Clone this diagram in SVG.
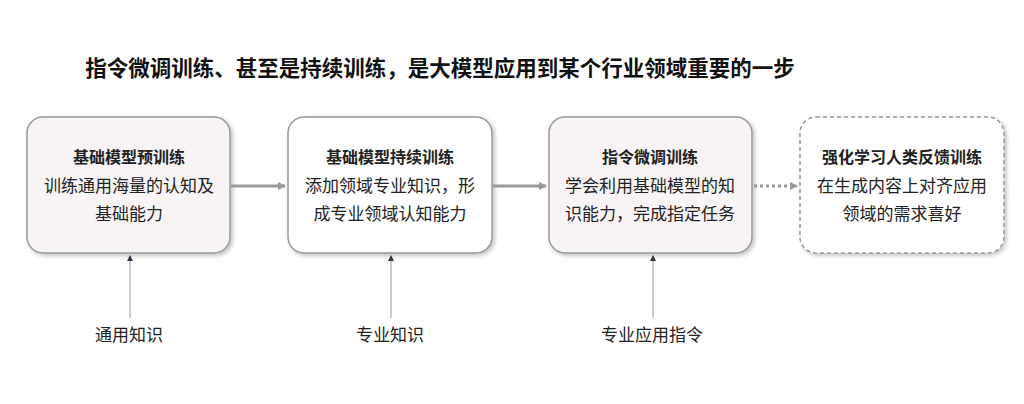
<svg xmlns="http://www.w3.org/2000/svg" width="1024" height="404" viewBox="0 0 1024 404">
<style>
text{font-family:"Noto Sans CJK SC","Noto Sans",sans-serif;fill:#222;text-anchor:middle}
.t{font-size:16px;font-weight:bold}
.b{font-size:17px}
.box{stroke:#999;stroke-width:1.5}
.flow{stroke:#999;stroke-width:3;fill:none}
.up{stroke:#999;stroke-width:1;fill:none}
</style>
<defs>
<filter id="sh" x="-10%" y="-10%" width="130%" height="130%"><feDropShadow dx="2" dy="2" stdDeviation="2" flood-color="#000" flood-opacity="0.25"/></filter>
<marker id="ah" markerWidth="8" markerHeight="8" refX="7" refY="4" orient="auto" markerUnits="userSpaceOnUse"><path d="M0,0 L8,4 L0,8 Z" fill="#999"/></marker>
<marker id="as" markerWidth="6" markerHeight="6" refX="5" refY="3" orient="auto" markerUnits="userSpaceOnUse"><path d="M0,0 L6,3 L0,6 Z" fill="#334"/></marker>
</defs>
<rect width="1024" height="404" fill="#fff"/>
<text x="440" y="76" style="font-size:21.5px;font-weight:bold;fill:#111">指令微调训练、甚至是持续训练，是大模型应用到某个行业领域重要的一步</text>
<g id="n1"><rect class="box" x="27" y="117" width="203" height="136" rx="16" fill="#f8f4f6" filter="url(#sh)"/>
<text class="t" x="129" y="163">基础模型预训练</text><text class="b" x="129" y="192">训练通用海量的认知及</text><text class="b" x="129" y="220">基础能力</text></g>
<g id="n2"><rect class="box" x="288" y="117" width="204" height="136" rx="16" fill="#fff" filter="url(#sh)"/>
<text class="t" x="390" y="163">基础模型持续训练</text><text class="b" x="390" y="192">添加领域专业知识，形</text><text class="b" x="390" y="220">成专业领域认知能力</text></g>
<g id="n3"><rect class="box" x="549" y="117" width="203" height="136" rx="16" fill="#f8f4f6" filter="url(#sh)"/>
<text class="t" x="650" y="163">指令微调训练</text><text class="b" x="650" y="192">学会利用基础模型的知</text><text class="b" x="650" y="220">识能力，完成指定任务</text></g>
<g id="n4"><rect class="box" x="800" y="117" width="204" height="136" rx="16" fill="#fff" stroke-dasharray="4 3" filter="url(#sh)"/>
<text class="t" x="902" y="163">强化学习人类反馈训练</text><text class="b" x="902" y="192">在生成内容上对齐应用</text><text class="b" x="902" y="220">领域的需求喜好</text></g>
<g id="l1"><text class="b" x="129" y="341">通用知识</text></g>
<g id="l2"><text class="b" x="390" y="341">专业知识</text></g>
<g id="l3"><text class="b" x="652" y="341">专业应用指令</text></g>
<g id="connectors">
<line class="flow" x1="231" y1="186" x2="285" y2="186" marker-end="url(#ah)"/>
<line class="flow" x1="493" y1="186" x2="546" y2="186" marker-end="url(#ah)"/>
<line class="flow" x1="754" y1="186" x2="797" y2="186" stroke-dasharray="3 3" marker-end="url(#ah)"/>
<line class="up" x1="130" y1="318" x2="130" y2="256" marker-end="url(#as)"/>
<line class="up" x1="391" y1="318" x2="391" y2="256" marker-end="url(#as)"/>
<line class="up" x1="653" y1="318" x2="653" y2="256" marker-end="url(#as)"/>
</g>
</svg>
